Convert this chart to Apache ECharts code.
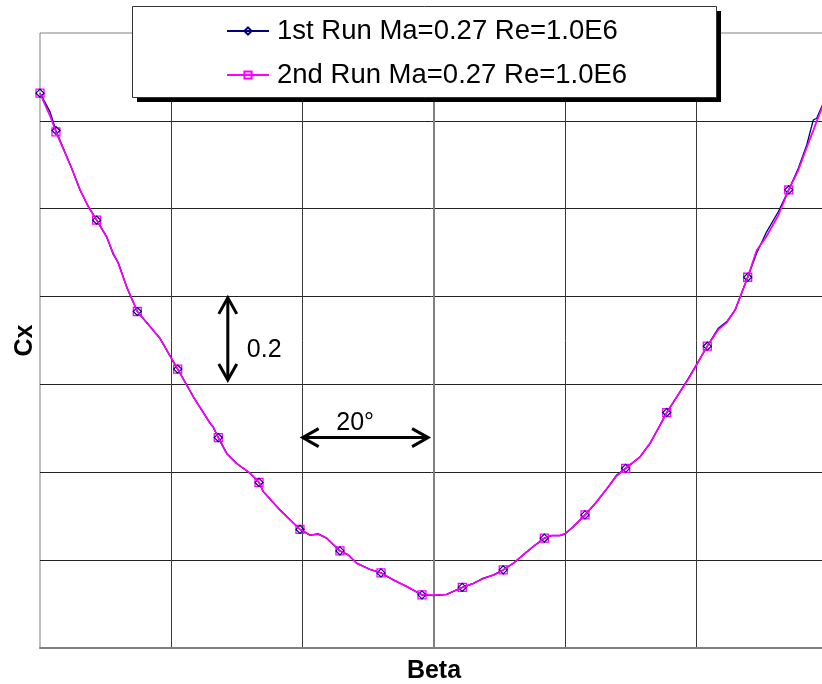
<!DOCTYPE html>
<html>
<head>
<meta charset="utf-8">
<script src="https://cdn.jsdelivr.net/npm/echarts@6/dist/echarts.min.js"></script>
<style>
  html, body { margin: 0; padding: 0; background: #ffffff; }
  #chart { width: 822px; height: 684px; }
</style>
</head>
<body>
<div id="chart"></div>
<script>
// Side-slip angle (deg) of each sample
const betaDeg = [
  -60.0, -58.48, -57.57, -55.18, -53.91, -52.65, -51.37, -49.85, -48.84, -48.08,
  -46.80, -45.18, -41.73, -39.70, -39.03, -36.66, -34.11, -33.61, -32.85, -31.57,
  -30.05, -28.02, -26.65, -26.00, -23.45, -20.41, -18.88, -17.62, -16.34, -14.32,
  -13.05, -11.77, -9.75, -8.07, -6.20, -4.16, -1.83, -0.11, 1.93, 4.31,
  5.99, 7.51, 9.03, 10.55, 12.08, 13.60, 15.12, 16.80, 17.92, 19.19,
  19.95, 21.21, 23.00, 24.78, 26.54, 27.82, 29.19, 31.37, 32.90, 34.16,
  35.44, 37.46, 38.73, 41.62, 43.30, 44.58, 45.84, 47.77, 49.14, 50.67,
  52.43, 54.02, 55.48, 56.76, 57.76, 58.28, 59.04, 60.0
];

// Drag coefficient, first run
const cxRun1 = [
  1.263, 1.221, 1.178, 1.092, 1.043, 1.005, 0.974, 0.936, 0.896, 0.877,
  0.822, 0.766, 0.705, 0.652, 0.635, 0.572, 0.512, 0.502, 0.479, 0.443,
  0.420, 0.398, 0.377, 0.356, 0.314, 0.270, 0.257, 0.260, 0.250, 0.221,
  0.212, 0.193, 0.179, 0.171, 0.155, 0.140, 0.121, 0.119, 0.122, 0.138,
  0.147, 0.159, 0.166, 0.178, 0.193, 0.212, 0.231, 0.250, 0.256, 0.256,
  0.260, 0.276, 0.303, 0.333, 0.367, 0.394, 0.409, 0.435, 0.466, 0.500,
  0.536, 0.583, 0.614, 0.687, 0.728, 0.743, 0.769, 0.844, 0.899, 0.948,
  0.993, 1.043, 1.092, 1.145, 1.202, 1.206, 1.232, 1.266
];

// Drag coefficient, second run
const cxRun2 = [
  1.263, 1.212, 1.175, 1.092, 1.043, 1.005, 0.974, 0.936, 0.898, 0.876,
  0.822, 0.766, 0.705, 0.652, 0.635, 0.572, 0.512, 0.503, 0.479, 0.443,
  0.420, 0.398, 0.377, 0.356, 0.314, 0.270, 0.257, 0.259, 0.250, 0.221,
  0.212, 0.193, 0.179, 0.171, 0.155, 0.140, 0.121, 0.120, 0.122, 0.138,
  0.147, 0.158, 0.166, 0.178, 0.193, 0.212, 0.231, 0.250, 0.256, 0.256,
  0.260, 0.276, 0.303, 0.333, 0.367, 0.392, 0.409, 0.435, 0.466, 0.500,
  0.536, 0.583, 0.612, 0.687, 0.725, 0.741, 0.769, 0.844, 0.905, 0.938,
  0.985, 1.043, 1.088, 1.140, 1.178, 1.199, 1.228, 1.262
];

// Samples that carry a marker
const markerIdx = [0, 2, 6, 11, 14, 18, 22, 25, 29, 33, 36, 39, 43, 47, 52, 56, 60, 63, 67, 71];

const seriesNames = ['1st Run Ma=0.27 Re=1.0E6', '2nd Run Ma=0.27 Re=1.0E6'];

const FONT = '"Liberation Sans", Arial, Helvetica, sans-serif';

function buildData(cx) {
  return betaDeg.map(function (b, i) {
    const item = { value: [b, cx[i]] };
    if (markerIdx.indexOf(i) < 0) item.symbol = 'none';
    return item;
  });
}

const chart = echarts.init(document.getElementById('chart'), null, { renderer: 'canvas' });

const option = {
  animation: false,
  backgroundColor: '#ffffff',
  textStyle: { fontFamily: FONT },
  grid: {
    left: 40, top: 33, right: -6, bottom: 36,
    outerBoundsMode: 'none',
    containLabel: false,
    show: true, backgroundColor: '#ffffff',
    borderColor: '#808080', borderWidth: 1
  },
  legend: {
    orient: 'vertical',
    left: 226, top: 16, padding: 0,
    itemWidth: 42, itemHeight: 9, itemGap: 14,
    z: 20,
    selectedMode: false,
    textStyle: { fontSize: 27.5, color: '#000', fontFamily: FONT, lineHeight: 30, padding: [0, 0, 0, 3] },
    data: seriesNames
  },
  xAxis: {
    type: 'value', min: -60, max: 60, interval: 20,
    name: 'Beta', nameLocation: 'middle', nameGap: 11,
    nameTextStyle: { fontSize: 25, fontWeight: 'bold', color: '#000', fontFamily: FONT, verticalAlign: 'top' },
    axisLine: { show: true, lineStyle: { color: '#808080', width: 2 } },
    axisTick: { show: false },
    axisLabel: { show: false },
    splitLine: { show: true, showMinLine: false, showMaxLine: false, lineStyle: { color: '#3a3a3a', width: 1 } }
  },
  yAxis: {
    type: 'value', min: 0, max: 1.4, interval: 0.2,
    name: 'Cx', nameLocation: 'middle', nameGap: 2, nameRotate: 90,
    nameTextStyle: { fontSize: 25, fontWeight: 'bold', color: '#000', fontFamily: FONT },
    axisLine: { show: true, lineStyle: { color: '#808080', width: 2 } },
    axisTick: { show: false },
    axisLabel: { show: false },
    splitLine: { show: true, showMinLine: false, showMaxLine: false, lineStyle: { color: '#222', width: 1 } }
  },
  series: [
    {
      name: seriesNames[1],
      type: 'line',
      data: buildData(cxRun2),
      symbol: 'rect', symbolSize: 8, showSymbol: true,
      lineStyle: { color: '#ff00ff', width: 1.5 },
      itemStyle: { color: 'rgba(255,255,255,0)', borderColor: '#ff00ff', borderWidth: 1.3 },
      z: 2
    },
    {
      name: seriesNames[0],
      type: 'line',
      data: buildData(cxRun1),
      symbol: 'diamond', symbolSize: 8, showSymbol: true,
      lineStyle: { color: '#000080', width: 1.3 },
      itemStyle: { color: 'rgba(255,255,255,0)', borderColor: '#000080', borderWidth: 1.2 },
      z: 3
    },
    {
      // second run line redrawn over the first so magenta stays on top
      name: seriesNames[1] + ' ',
      type: 'line',
      data: betaDeg.map(function (b, i) { return [b, cxRun2[i]]; }),
      symbol: 'none',
      lineStyle: { color: '#ff00ff', width: 1.5 },
      silent: true,
      z: 4
    }
  ]
};

chart.setOption(option);

// Scale-bar annotations placed in data space
const vBar = { beta: -31.4, cx: [0.797, 0.610], label: '0.2', labelAt: [-28.5, 0.677] };
const hBar = { beta: [-20, -0.9], cx: 0.479, label: '20\u00b0', labelAt: [-12.0, 0.513] };

function px(b, c) { return chart.convertToPixel({ gridIndex: 0 }, [b, c]); }

const vTop = px(vBar.beta, vBar.cx[0]);
const vBot = px(vBar.beta, vBar.cx[1]);
const hL = px(hBar.beta[0], hBar.cx);
const hR = px(hBar.beta[1], hBar.cx);
const vLab = px(vBar.labelAt[0], vBar.labelAt[1]);
const hLab = px(hBar.labelAt[0], hBar.labelAt[1]);

const arrowStyle = { stroke: '#000', lineWidth: 3, fill: null, lineJoin: 'miter', lineCap: 'butt' };
const headLen = 16, headHalf = 9;

chart.setOption({
  graphic: [
    // legend frame with its drop shadow
    { type: 'rect', id: 'legShadow', z: 10, shape: { x: 137, y: 11, width: 584, height: 91 }, style: { fill: '#000' } },
    { type: 'rect', id: 'legBox', z: 11, shape: { x: 132.5, y: 6.5, width: 584, height: 91 }, style: { fill: '#fff', stroke: '#333', lineWidth: 1 } },
    // vertical double arrow
    { type: 'line', id: 'vShaft', z: 5, shape: { x1: vTop[0], y1: vTop[1] + 1, x2: vBot[0], y2: vBot[1] - 1 }, style: arrowStyle },
    { type: 'polyline', id: 'vHeadT', z: 5, shape: { points: [[vTop[0] - headHalf, vTop[1] + headLen], [vTop[0], vTop[1]], [vTop[0] + headHalf, vTop[1] + headLen]] }, style: arrowStyle },
    { type: 'polyline', id: 'vHeadB', z: 5, shape: { points: [[vBot[0] - headHalf, vBot[1] - headLen], [vBot[0], vBot[1]], [vBot[0] + headHalf, vBot[1] - headLen]] }, style: arrowStyle },
    // horizontal double arrow
    { type: 'line', id: 'hShaft', z: 5, shape: { x1: hL[0] + 1, y1: hL[1], x2: hR[0] - 1, y2: hR[1] }, style: arrowStyle },
    { type: 'polyline', id: 'hHeadL', z: 5, shape: { points: [[hL[0] + headLen, hL[1] - headHalf], [hL[0], hL[1]], [hL[0] + headLen, hL[1] + headHalf]] }, style: arrowStyle },
    { type: 'polyline', id: 'hHeadR', z: 5, shape: { points: [[hR[0] - headLen, hR[1] - headHalf], [hR[0], hR[1]], [hR[0] - headLen, hR[1] + headHalf]] }, style: arrowStyle },
    // scale labels
    { type: 'text', id: 'vLabel', z: 5, x: vLab[0], y: vLab[1], style: { text: vBar.label, fill: '#000', font: '25px ' + FONT, textAlign: 'left', textVerticalAlign: 'middle' } },
    { type: 'text', id: 'hLabel', z: 5, x: hLab[0], y: hLab[1], style: { text: hBar.label, fill: '#000', font: '25px ' + FONT, textAlign: 'center', textVerticalAlign: 'middle' } }
  ]
});
</script>
</body>
</html>
